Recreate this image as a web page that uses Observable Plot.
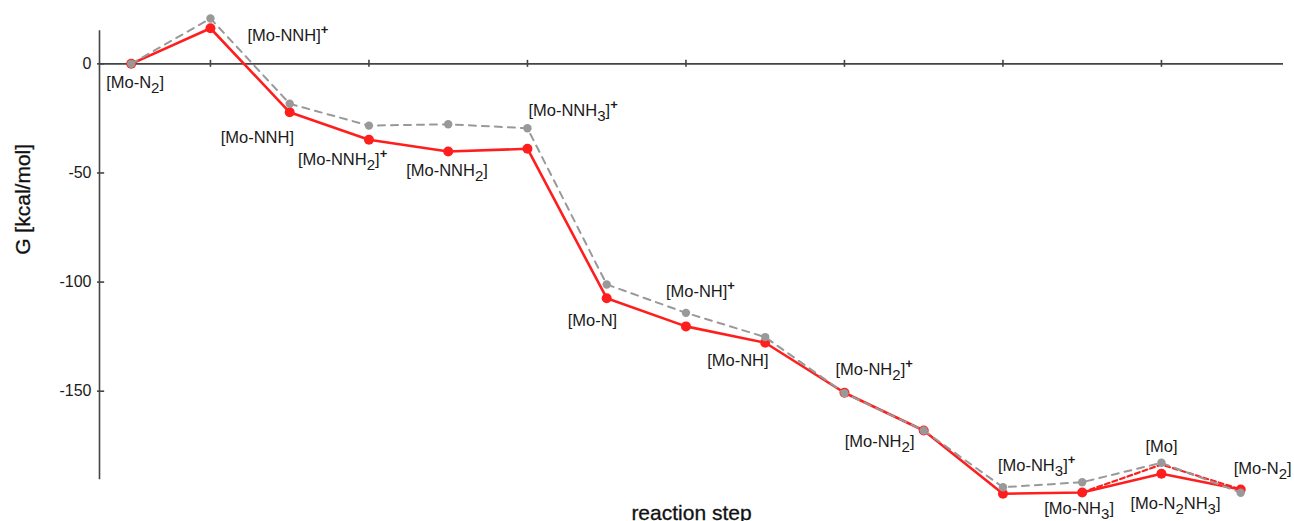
<!DOCTYPE html>
<html>
<head>
<meta charset="utf-8">
<script src="https://cdn.jsdelivr.net/npm/d3@7"></script>
<script src="https://cdn.jsdelivr.net/npm/@observablehq/plot@0.6"></script>
<style>
  html, body { margin: 0; padding: 0; background: #fff; }
  #chart svg { display: block; }
</style>
</head>
<body>
<div id="chart"></div>
<script>
// ---- data ----
const stepIndex = [0, 1, 2, 3, 4, 5, 6, 7, 8, 9, 10, 11, 12, 13, 14];
const redNames = ["[Mo-N₂]", "[Mo-NNH]⁺", "[Mo-NNH]", "[Mo-NNH₂]⁺", "[Mo-NNH₂]", "[Mo-NNH₃]⁺",
  "[Mo-N]", "[Mo-NH]⁺", "[Mo-NH]", "[Mo-NH₂]⁺", "[Mo-NH₂]", "[Mo-NH₃]⁺", "[Mo-NH₃]", "[Mo-N₂NH₃]", "[Mo-N₂]"];
const redG = [0, 16.3, -22.2, -34.8, -40.2, -38.9, -107.4, -120.3, -127.8, -150.7, -168.0, -197.0, -196.4, -187.8, -195.0];
const grayG = [0, 20.8, -18.3, -28.3, -27.7, -29.5, -101.1, -114.1, -125.2, -150.9, -168.0, -194.0, -191.7, -182.8, -196.5];
// red dashed branch through [Mo]
const redAltSteps = [12, 13, 14];
const redAltG = [-196.4, -183.6, -195.0];
const moLabel = "[Mo]";
const moStep = 13;

const yTicks = [0, -50, -100, -150];
const xTicks = [1, 3, 5, 7, 9, 11, 13];
const yLabel = "G [kcal/mol]";
const xLabel = "reaction step";

// ---- layout (label offsets in px relative to their point) ----
const labelOffsets = [
  [-25, 19], [37, 7], [-69, 25], [-71, 20], [-42, 19.5], [1, -38], [-39, 22], [-20, -35],
  [-58, 18], [-9, -23], [-79, 11.5], [-5, -28], [-38, 16.5], [-31, 30], [-7, -20.5]
];
const moOffset = [-16, -16];

const xDomain = [-0.4, 14.54];
const yDomain = [-190, 15];
const RED = "#ff1e1e";
const GRAY = "#999999";
const FONT = "'Liberation Sans', Arial, Helvetica, sans-serif";

const redData = stepIndex.map((s, i) => ({step: s, g: redG[i], name: redNames[i]}));
const grayData = stepIndex.map((s, i) => ({step: s, g: grayG[i]}));
const altData = redAltSteps.map((s, i) => ({step: s, g: redAltG[i]}));

const labelMarks = redData.map((d, i) => Plot.text([d], {
  x: "step", y: "g", text: "name", textAnchor: "start",
  dx: labelOffsets[i][0], dy: labelOffsets[i][1],
  fontSize: 16.5, fill: "#1a1a1a", className: "rich"
}));
labelMarks.push(Plot.text([{step: moStep, g: grayG[moStep], name: moLabel}], {
  x: "step", y: "g", text: "name", textAnchor: "start",
  dx: moOffset[0], dy: moOffset[1], fontSize: 16.5, fill: "#1a1a1a", className: "rich"
}));

const svg = Plot.plot({
  width: 1294,
  height: 521,
  marginTop: 30.6,
  marginBottom: 43,
  marginLeft: 99,
  marginRight: 11,
  style: {fontFamily: FONT, background: "#fff", overflow: "visible"},
  x: {domain: xDomain, axis: null},
  y: {domain: yDomain, axis: null},
  marks: [
    // axes
    Plot.frame({anchor: "left", stroke: "#444", strokeWidth: 1.6}),
    Plot.ruleY([0], {stroke: "#444", strokeWidth: 1.6}),
    Plot.ruleX(xTicks, {x: d => d, y1: -1.6, y2: 1.6, stroke: "#444", strokeWidth: 1.6}),
    Plot.ruleY(yTicks, {y: d => d, x1: xDomain[0] - 0.025, x2: xDomain[0] + 0.065, stroke: "#444", strokeWidth: 1.6}),
    Plot.axisY({ticks: yTicks, tickSize: 0, tickPadding: 8, tickFormat: d => String(d), label: null, fontSize: 16, fill: "#1a1a1a", stroke: "#1a1a1a", strokeWidth: 0.3}),
    Plot.text([yLabel], {frameAnchor: "left", rotate: -90, dx: -76, fontSize: 21, fill: "#111", stroke: "#111", strokeWidth: 0.3}),
    Plot.text([xLabel], {frameAnchor: "bottom", lineAnchor: "bottom", dy: 41, fontSize: 21, fill: "#111", stroke: "#111", strokeWidth: 0.3}),
    // red series
    Plot.line(redData, {x: "step", y: "g", stroke: RED, strokeWidth: 2.6}),
    Plot.line(altData, {x: "step", y: "g", stroke: RED, strokeWidth: 2.2, strokeDasharray: "5,3"}),
    Plot.dot(redData, {x: "step", y: "g", r: 5, fill: RED}),
    // gray series
    Plot.line(grayData, {x: "step", y: "g", stroke: GRAY, strokeWidth: 2, strokeDasharray: "7,6"}),
    Plot.dot(grayData, {x: "step", y: "g", r: 4.2, fill: GRAY}),
    ...labelMarks
  ]
});

// turn unicode sub/superscripts into shifted tspans
const subMap = {"₀":"0","₁":"1","₂":"2","₃":"3","₄":"4"};
svg.querySelectorAll("g.rich text, .rich text").forEach(t => {
  const s = t.textContent;
  if (!/[₀-₄⁺]/.test(s)) return;
  const runs = [];
  for (const ch of s) {
    const type = subMap[ch] ? "sub" : ch === "⁺" ? "sup" : "n";
    const c = subMap[ch] || (ch === "⁺" ? "+" : ch);
    if (runs.length && runs[runs.length - 1].type === type) runs[runs.length - 1].text += c;
    else runs.push({type, text: c});
  }
  while (t.firstChild) t.removeChild(t.firstChild);
  let cur = 0;
  for (const r of runs) {
    const ts = document.createElementNS("http://www.w3.org/2000/svg", "tspan");
    const target = r.type === "sub" ? 5 : r.type === "sup" ? -7 : 0;
    ts.setAttribute("dy", String(target - cur));
    cur = target;
    if (r.type === "sub") ts.setAttribute("font-size", "15");
    if (r.type === "sup") { ts.setAttribute("font-size", "13"); ts.setAttribute("font-weight", "bold"); }
    ts.textContent = r.text;
    t.appendChild(ts);
  }
});

document.getElementById("chart").appendChild(svg);
</script>
</body>
</html>
